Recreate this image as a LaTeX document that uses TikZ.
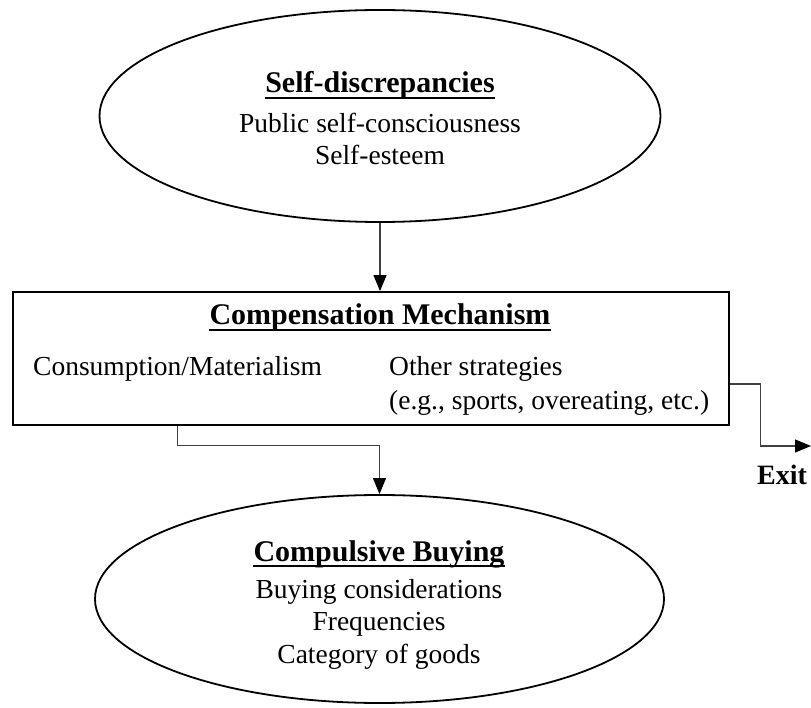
\documentclass[tikz,border=0pt]{standalone}
\usepackage{fontspec}
\setmainfont{Liberation Serif}
\usetikzlibrary{arrows.meta,shapes.geometric,calc}
\begin{document}
\begin{tikzpicture}[x=1pt,y=-1pt,
  oval/.style={draw=black,line width=1.8pt,ellipse,inner sep=0pt},
  mbox/.style={draw=black,line width=1.8pt,rectangle,inner sep=0pt},
  hd/.style={inner sep=0pt,anchor=base,font=\fontsize{30}{36}\selectfont\bfseries},
  txt/.style={inner sep=0pt,anchor=base,font=\fontsize{27.5}{33}\selectfont},
  ul/.style={line width=1.4pt,black},
  conn/.style={draw=black!75,line width=1.1pt,-{Triangle[length=16pt,width=13pt,color=black]}}]
\useasboundingbox (0,0) rectangle (811,708);
% shapes
\node[oval,minimum width=561pt,minimum height=212pt] (top) at (380,116) {};
\node[mbox,minimum width=716pt,minimum height=133pt] (box) at (371,358.5) {};
\node[oval,minimum width=569pt,minimum height=208pt] (bot) at (379.5,599) {};
% top ellipse text
\node[hd] (t1) at (380,93) {Self-discrepancies};
\draw[ul] ([yshift=-5pt]t1.base west) -- ([yshift=-5pt]t1.base east);
\node[txt] (t2) at (380,133) {Public self-consciousness};
\node[txt] (t3) at (380,165) {Self-esteem};
% box text
\node[hd] (b1) at (380,325) {Compensation Mechanism};
\draw[ul] ([yshift=-5pt]b1.base west) -- ([yshift=-5pt]b1.base east);
\node[txt,anchor=base west] (cm) at (33,376) {Consumption/Materialism};
\node[txt,anchor=base west] (os) at (389,376) {Other strategies};
\node[txt,anchor=base west] (eg) at (389,409) {(e.g., sports, overeating, etc.)};
% bottom ellipse text
\node[hd] (c1) at (379,561) {Compulsive Buying};
\draw[ul] ([yshift=-5pt]c1.base west) -- ([yshift=-5pt]c1.base east);
\node[txt] (c2) at (379,598) {Buying considerations};
\node[txt] (c3) at (379,630) {Frequencies};
\node[txt] (c4) at (379,663) {Category of goods};
% exit
\node[inner sep=0pt,anchor=base,font=\fontsize{28}{34}\selectfont\bfseries] (exit) at (782,484) {Exit};
\coordinate (exitend) at (811,446);
% connectors
\draw[conn] (top.south) -- (top.south |- box.north);
\draw[conn] (cm.south |- box.south) -- ++(0,20) -| (bot.north);
\draw[conn] ([yshift=-25.5pt]box.east) -- ++(31,0) |- (exitend);
\end{tikzpicture}
\end{document}
